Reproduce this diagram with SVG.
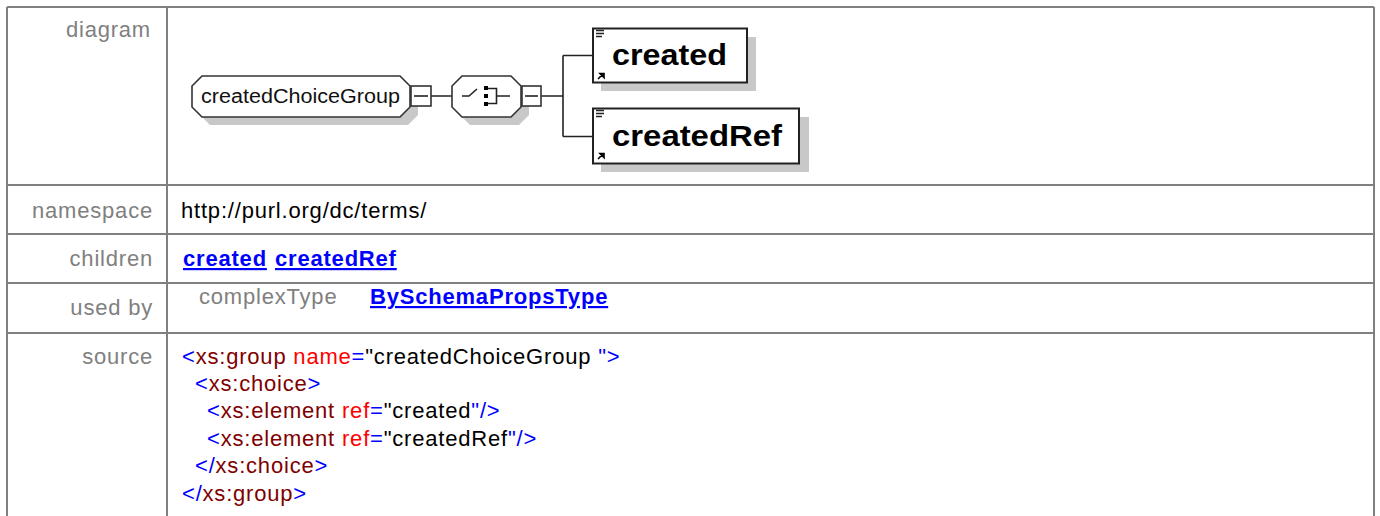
<svg xmlns="http://www.w3.org/2000/svg" width="1380" height="516" viewBox="0 0 1380 516">
<style>
.grid{stroke:#808080;stroke-width:2;fill:none}
.lbl{font-family:"Liberation Sans",Arial,sans-serif;font-size:22px;letter-spacing:0.8px;fill:#808080;text-anchor:end}
.val{font-family:"Liberation Sans",Arial,sans-serif;font-size:22px;letter-spacing:0.8px;fill:#000}
.lnk{font-family:"Liberation Sans",Arial,sans-serif;font-size:22px;letter-spacing:0.8px;fill:#0000ff;font-weight:bold;text-decoration:underline}
.src{font-family:"Liberation Sans",Arial,sans-serif;font-size:22px;letter-spacing:0.8px;fill:#000}
.b{fill:#0000ff}.t{fill:#800000}.a{fill:#ff0000}
.shadow{fill:#c8c8c8;stroke:none}
.shape{fill:#fff;stroke:#333;stroke-width:1.6}
.box{fill:#fff;stroke:#222;stroke-width:2}
.conn{stroke:#222;stroke-width:1.6;fill:none}
.gname{font-family:"Liberation Sans",Arial,sans-serif;font-size:20px;fill:#111}
.ename{font-family:"Liberation Sans",Arial,sans-serif;font-size:30px;font-weight:bold;fill:#000}
</style>
<defs>
<g id="elemIcons">
<path d="M596,30.5h8M596,33.5h8M596,36.5h6" stroke="#222" stroke-width="1.5" fill="none"/>
</g>
</defs>
<g id="table">
<path class="grid" d="M7,7H1374M7,7V516M1374,7V516M167,7V516M7,185H1374M7,234H1374M7,283H1374M7,333H1374"/>
<text class="lbl" x="151" y="37">diagram</text>
<text class="lbl" x="153" y="218">namespace</text>
<text class="lbl" x="153" y="266">children</text>
<text class="lbl" x="153" y="315">used by</text>
<text class="lbl" x="153" y="364">source</text>
<text class="val" x="181" y="218">http://purl.org/dc/terms/</text>
<text class="lnk" x="183" y="266">created</text>
<text class="lnk" x="275" y="266">createdRef</text>
<text class="lbl" x="199" y="304" style="text-anchor:start">complexType</text>
<text class="lnk" x="370" y="304">BySchemaPropsType</text>
<text class="src" x="182" y="364"><tspan class="b">&lt;</tspan><tspan class="t">xs:group</tspan> <tspan class="a">name</tspan><tspan class="b">=</tspan>"createdChoiceGroup <tspan class="b">"&gt;</tspan></text>
<text class="src" x="195" y="391"><tspan class="b">&lt;</tspan><tspan class="t">xs:choice</tspan><tspan class="b">&gt;</tspan></text>
<text class="src" x="207" y="418"><tspan class="b">&lt;</tspan><tspan class="t">xs:element</tspan> <tspan class="a">ref</tspan><tspan class="b">=</tspan>"created<tspan class="b">"/&gt;</tspan></text>
<text class="src" x="207" y="446"><tspan class="b">&lt;</tspan><tspan class="t">xs:element</tspan> <tspan class="a">ref</tspan><tspan class="b">=</tspan>"createdRef<tspan class="b">"/&gt;</tspan></text>
<text class="src" x="195" y="473"><tspan class="b">&lt;/</tspan><tspan class="t">xs:choice</tspan><tspan class="b">&gt;</tspan></text>
<text class="src" x="182" y="501"><tspan class="b">&lt;/</tspan><tspan class="t">xs:group</tspan><tspan class="b">&gt;</tspan></text>
</g>
<g id="connectors">
<path class="conn" d="M431,96H452M541,96H563M563,55.5V136.5M563,55.5H593M563,136.5H593"/>
</g>
<g id="createdChoiceGroup">
<path class="shadow" d="M210,84H408L418,94V115L408,125H210L200,115V94Z"/>
<path class="shape" d="M202,76H400L410,86V107L400,117H202L192,107V86Z"/>
<text class="gname" x="201" y="103" textLength="199" lengthAdjust="spacingAndGlyphs">createdChoiceGroup</text>
<rect class="shape" x="411" y="86" width="20" height="20"/>
<path class="conn" d="M414,96H428"/>
</g>
<g id="choice">
<path class="shadow" d="M470,84H519L529,94V115L519,125H470L460,115V94Z"/>
<path class="shape" d="M462,76H511L521,86V107L511,117H462L452,107V86Z"/>
<path class="conn" d="M462,96H469L477,89M487,88.5H496.5V103.5H487M496.5,96H510"/>
<rect x="484" y="86" width="4" height="4" fill="#000"/>
<rect x="484" y="94" width="4" height="4" fill="#000"/>
<rect x="484" y="102" width="4" height="4" fill="#000"/>
<rect class="shape" x="522" y="86" width="19" height="20"/>
<path class="conn" d="M525,96H538"/>
</g>
<g id="created">
<rect class="shadow" x="601" y="37" width="155" height="54"/>
<rect class="box" x="593" y="28.5" width="154" height="54"/>
<use href="#elemIcons"/>
<path d="M598,79L603,74M600,73.5H604V77.5Z" stroke="#000" stroke-width="1.6" fill="#000"/>
<text class="ename" x="612" y="65" textLength="115" lengthAdjust="spacingAndGlyphs">created</text>
</g>
<g id="createdRef">
<rect class="shadow" x="601" y="117" width="208" height="55"/>
<rect class="box" x="593" y="108.5" width="206" height="55"/>
<use href="#elemIcons" transform="translate(0,80)"/>
<path d="M598,159L603,154M600,153.5H604V157.5Z" stroke="#000" stroke-width="1.6" fill="#000"/>
<text class="ename" x="612" y="146" textLength="170" lengthAdjust="spacingAndGlyphs">createdRef</text>
</g>
</svg>
